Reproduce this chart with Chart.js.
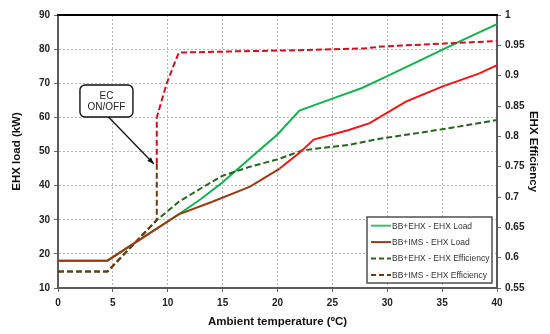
<!DOCTYPE html>
<html>
<head>
<meta charset="utf-8">
<script src="https://cdn.jsdelivr.net/npm/chart.js@4.4.1/dist/chart.umd.min.js"></script>
<style>
  html, body { margin: 0; padding: 0; background: #ffffff; }
  #wrap { width: 550px; height: 334px; position: relative; }
</style>
</head>
<body>
<div id="wrap"><canvas id="c" width="550" height="334"></canvas></div>
<script>
// ---------- Data ----------
const xTickValues   = [0, 5, 10, 15, 20, 25, 30, 35, 40];
const loadTickValues = [10, 20, 30, 40, 50, 60, 70, 80, 90];
const effTickValues  = [0.55, 0.6, 0.65, 0.7, 0.75, 0.8, 0.85, 0.9, 0.95, 1];

const seriesNames = [
  'BB+EHX - EHX Load',
  'BB+IMS - EHX Load',
  'BB+EHX - EHX Efficiency',
  'BB+IMS - EHX Efficiency'
];

// BB+EHX - EHX Load (kW)
const ehxLoadT = [0, 4.5, 11, 13, 15, 17.5, 20, 22, 25, 27.7, 30, 33, 36.9, 40];
const ehxLoad  = [18, 18, 31.6, 36, 41, 48, 55, 62, 65.5, 68.6, 72.1, 76.7, 82.7, 87.3];

// BB+IMS - EHX Load (kW)
const imsLoadT = [0, 4.5, 11, 14, 17.5, 20.2, 22, 23.3, 26.5, 28.4, 31.7, 35, 38.4, 40];
const imsLoad  = [18, 18, 31.6, 35.2, 39.7, 45.0, 49.6, 53.5, 56.3, 58.3, 64.6, 69.0, 72.9, 75.3];

// BB+EHX - EHX Efficiency
const ehxEffT = [0, 4.5, 9, 11, 13, 15, 17.5, 20, 22.3, 26.5, 29.3, 33, 36.5, 40];
const ehxEff  = [0.577, 0.577, 0.662, 0.692, 0.714, 0.735, 0.750, 0.762, 0.777, 0.786, 0.796, 0.806, 0.816, 0.827];

// BB+IMS - EHX Efficiency
const imsEffT = [0, 4.5, 9, 9, 9, 9.9, 11, 16, 22, 28, 29.5, 34, 40];
const imsEff  = [0.577, 0.577, 0.662, 0.755, 0.831, 0.887, 0.938, 0.940, 0.942, 0.945, 0.948, 0.952, 0.957];

const annotationText = ['EC', 'ON/OFF'];

// ---------- Styling ----------
const GREEN = '#12b050';
const BROWN = '#9a3a12';
const RED = '#f01418';
const DKGREEN = '#23661c';
const BROWN_DASH = '#6e3a12';
const RED_DASH = '#d0101e';
const LEGEND_GREEN = '#45b878';

function hasFont(name) {
  const c = document.createElement('canvas').getContext('2d');
  const s = 'Ambient temperature 0123456789 WMw';
  c.font = 'bold 20px monospace';
  const w0 = c.measureText(s).width;
  c.font = "bold 20px '" + name + "', monospace";
  return Math.abs(c.measureText(s).width - w0) > 0.5;
}
const NARROW = hasFont('Liberation Sans Narrow');
const tickFont = NARROW
  ? { family: "'Liberation Sans Narrow', 'Liberation Sans', Arial, sans-serif", size: 10.5, weight: 'bold' }
  : { family: "'Liberation Sans', Arial, sans-serif", size: 10, weight: 'bold' };
const xTitleFont = NARROW
  ? { family: "'Liberation Sans Narrow', 'Liberation Sans', Arial, sans-serif", size: 12.5, weight: 'bold' }
  : { family: "'Liberation Sans', Arial, sans-serif", size: 11.5, weight: 'bold' };
const yTitleFont = { family: "'Liberation Sans', Arial, sans-serif", size: 11.5, weight: 'bold' };
const legendFontStr = NARROW ? "10px 'Liberation Sans Narrow', 'Liberation Sans', Arial, sans-serif"
                             : "8.5px 'Liberation Sans', Arial, sans-serif";

function pts(xs, ys) { return xs.map((x, i) => ({ x: x, y: ys[i] })); }

const datasets = [
  {
    label: seriesNames[0], data: pts(ehxLoadT, ehxLoad), yAxisID: 'y',
    borderColor: GREEN, borderWidth: 2, order: 4, legendColor: LEGEND_GREEN, legendDash: []
  },
  {
    label: seriesNames[1], data: pts(imsLoadT, imsLoad), yAxisID: 'y',
    borderColor: BROWN, borderWidth: 2, order: 1, legendColor: BROWN, legendDash: [],
    segment: { borderColor: ctx => ctx.p0.parsed.x >= 20 ? RED : undefined }
  },
  {
    label: seriesNames[2], data: pts(ehxEffT, ehxEff), yAxisID: 'y1',
    borderColor: DKGREEN, borderWidth: 2, borderDash: [6, 3], order: 3, legendColor: DKGREEN, legendDash: [5, 3]
  },
  {
    label: seriesNames[3], data: pts(imsEffT, imsEff), yAxisID: 'y1',
    borderColor: BROWN_DASH, borderWidth: 2, borderDash: [6, 3], order: 2, legendColor: BROWN_DASH, legendDash: [5, 3],
    segment: { borderColor: ctx => ctx.p0.parsed.y >= 0.75 ? RED_DASH : undefined }
  }
];
datasets.forEach(d => { d.pointRadius = 0; d.pointHoverRadius = 0; d.tension = 0; d.fill = false; });

const decor = {
  id: 'decor',
  afterDraw(chart) {
    const { ctx, chartArea: a, scales } = chart;
    const sx = scales.x, sy = scales.y;
    ctx.save();
    // top frame line
    ctx.strokeStyle = '#000';
    ctx.lineWidth = 2;
    ctx.beginPath();
    ctx.moveTo(a.left - 1, a.top);
    ctx.lineTo(a.right + 1, a.top);
    ctx.stroke();

    // EC ON/OFF call-out
    const bx0 = sx.getPixelForValue(2.0), bx1 = sx.getPixelForValue(6.83);
    const by0 = sy.getPixelForValue(69.5), by1 = sy.getPixelForValue(60.1);
    const ax0 = sx.getPixelForValue(4.6), ay0 = by1;
    const ax1 = sx.getPixelForValue(8.72), ay1 = sy.getPixelForValue(46.4);
    ctx.strokeStyle = '#111';
    ctx.lineWidth = 1.3;
    ctx.beginPath();
    ctx.moveTo(ax0, ay0);
    ctx.lineTo(ax1, ay1);
    ctx.stroke();
    const ang = Math.atan2(ay1 - ay0, ax1 - ax0);
    ctx.fillStyle = '#111';
    ctx.beginPath();
    ctx.moveTo(ax1, ay1);
    ctx.lineTo(ax1 - 7 * Math.cos(ang - 0.38), ay1 - 7 * Math.sin(ang - 0.38));
    ctx.lineTo(ax1 - 7 * Math.cos(ang + 0.38), ay1 - 7 * Math.sin(ang + 0.38));
    ctx.closePath();
    ctx.fill();
    ctx.fillStyle = '#fff';
    ctx.strokeStyle = '#111';
    ctx.lineWidth = 1.4;
    ctx.beginPath();
    ctx.roundRect(bx0, by0, bx1 - bx0, by1 - by0, 5);
    ctx.fill();
    ctx.stroke();
    ctx.fillStyle = '#222';
    ctx.font = "10px 'Liberation Sans', Arial, sans-serif";
    ctx.textAlign = 'center';
    ctx.textBaseline = 'middle';
    const cx = (bx0 + bx1) / 2;
    ctx.fillText(annotationText[0], cx, by0 + 11);
    ctx.fillText(annotationText[1], cx, by0 + 22);

    // Legend box (inside plot, lower right)
    const lw = 125, lh = 66;
    const lx = a.right - 5 - lw, ly = a.bottom - 5 - lh;
    ctx.fillStyle = '#fff';
    ctx.fillRect(lx, ly, lw, lh);
    ctx.strokeStyle = '#444';
    ctx.lineWidth = 1.4;
    ctx.strokeRect(lx, ly, lw, lh);
    ctx.font = legendFontStr;
    ctx.textAlign = 'left';
    ctx.textBaseline = 'middle';
    chart.data.datasets.forEach((d, i) => {
      const yy = ly + 8.7 + i * 16.4;
      ctx.save();
      ctx.strokeStyle = d.legendColor;
      ctx.lineWidth = 2;
      ctx.setLineDash(d.legendDash);
      ctx.beginPath();
      ctx.moveTo(lx + 4, yy);
      ctx.lineTo(lx + 24, yy);
      ctx.stroke();
      ctx.restore();
      ctx.fillStyle = '#333';
      ctx.fillText(d.label, lx + 25, yy + 0.5);
    });
    ctx.restore();
  }
};

const gridDash = [2, 2];

new Chart(document.getElementById('c'), {
  type: 'line',
  data: { datasets: datasets },
  options: {
    responsive: false,
    animation: false,
    devicePixelRatio: 1,
    layout: { padding: { top: 15, left: 0, right: 0, bottom: 0 } },
    plugins: { legend: { display: false }, tooltip: { enabled: false } },
    scales: {
      x: {
        type: 'linear', position: 'bottom', min: 0, max: 40,
        afterBuildTicks: s => { s.ticks = xTickValues.map(v => ({ value: v })); },
        afterFit: s => { s.height = 46; },
        ticks: { font: tickFont, color: '#222', padding: 5, maxRotation: 0, callback: v => String(v) },
        grid: { color: '#b4b4b4', lineWidth: 1, drawTicks: true, tickLength: 4, tickColor: '#666' },
        border: { display: true, color: '#5a5a5a', width: 2, dash: gridDash },
        title: { display: true, text: 'Ambient temperature (ºC)', font: xTitleFont, color: '#111', padding: { top: 0, bottom: 5 } }
      },
      y: {
        type: 'linear', position: 'left', min: 10, max: 90,
        afterBuildTicks: s => { s.ticks = loadTickValues.map(v => ({ value: v })); },
        afterFit: s => { s.width = 58; },
        ticks: { font: tickFont, color: '#222', padding: 4, callback: v => String(v) },
        grid: { color: '#b4b4b4', lineWidth: 1, drawTicks: true, tickLength: 4, tickColor: '#666' },
        border: { display: true, color: '#5a5a5a', width: 2, dash: gridDash },
        title: { display: true, text: 'EHX load (kW)', font: yTitleFont, color: '#111', padding: { top: 10, bottom: 0 } }
      },
      y1: {
        type: 'linear', position: 'right', min: 0.55, max: 1,
        afterBuildTicks: s => { s.ticks = effTickValues.map(v => ({ value: v })); },
        afterFit: s => { s.width = 53; },
        ticks: { font: tickFont, color: '#222', padding: 4, callback: v => String(+(+v).toFixed(2)) },
        grid: { drawOnChartArea: false, drawTicks: true, tickLength: 4, tickColor: '#666', color: '#666' },
        border: { display: true, color: '#5a5a5a', width: 2 },
        title: { display: true, text: 'EHX Efficiency', font: yTitleFont, color: '#111', padding: { top: 10, bottom: 0 } }
      }
    }
  },
  plugins: [decor]
});
</script>
</body>
</html>
